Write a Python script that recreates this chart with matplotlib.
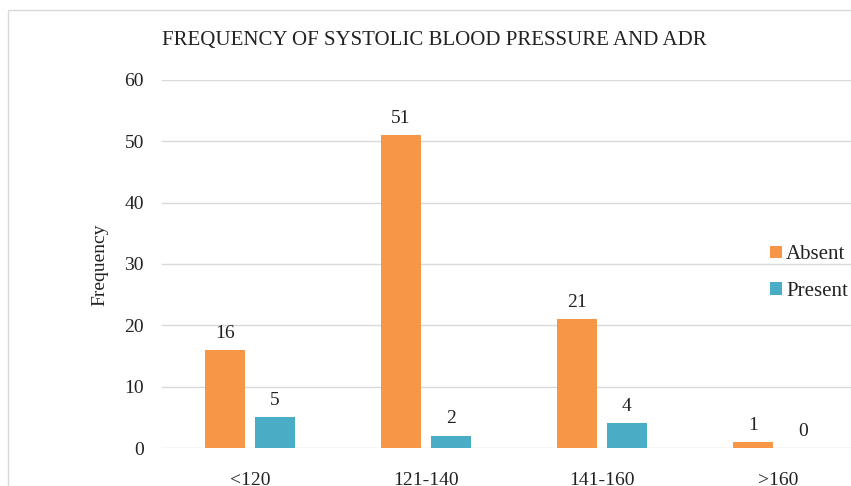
import matplotlib.pyplot as plt
import numpy as np
from matplotlib.patches import Rectangle

categories = ["<120", "121-140", "141-160", ">160"]
absent = [16, 51, 21, 1]
present = [5, 2, 4, 0]
series_names = ["Absent", "Present"]

plt.rcParams['font.family'] = ['Liberation Serif', 'DejaVu Serif']

W, H = 851, 486
fig = plt.figure(figsize=(W / 100, H / 100), dpi=100)

# plot area in pixels: left 162, right 866 (cropped), top 80, bottom 448
ax = fig.add_axes([162 / W, (H - 448) / H, 704 / W, 368 / H])

x = np.arange(len(categories))
bw = 40 / 176
off = 25 / 176
orange = "#F79646"
teal = "#4BACC6"
b1 = ax.bar(x - off, absent, bw, color=orange, label=series_names[0], zorder=3)
b2 = ax.bar(x + off, present, bw, color=teal, label=series_names[1], zorder=3)

for bars in (b1, b2):
    for r in bars:
        ax.annotate(f"{int(r.get_height())}", (r.get_x() + r.get_width() / 2, r.get_height()),
                    xytext=(0, 6), textcoords="offset points", ha="center", va="bottom",
                    fontsize=14, color="#222222")

ax.set_xlim(-0.5, 3.5)
ax.set_ylim(0, 60)
ax.set_yticks(range(0, 61, 10))
ax.set_xticks(x)
ax.set_xticklabels(categories)
ax.tick_params(axis="both", length=0, labelsize=14, colors="#222222")
ax.tick_params(axis="x", pad=17)
ax.tick_params(axis="y", pad=13)
ax.grid(axis="y", color="#D9D9D9", linewidth=1, zorder=0)
for s in ax.spines.values():
    s.set_visible(False)

fig.text(162 / W, 1 - 40 / H, "FREQUENCY OF SYSTOLIC BLOOD PRESSURE AND ADR",
         ha="left", va="center", fontsize=15, color="#222222")
fig.text(100 / W, 1 - 265 / H, "Frequency", rotation=90, ha="center", va="center",
         fontsize=14, color="#222222")

leg = fig.legend(handles=[b1, b2], loc="center left", bbox_to_anchor=(762 / W, 1 - 273 / H),
                 frameon=False, fontsize=15, handlelength=0.55, handleheight=0.55,
                 handletextpad=0.2, labelspacing=0.85, borderaxespad=0)
for t in leg.get_texts():
    t.set_color("#222222")

fig.patches.append(Rectangle((8 / W, -0.1), 1.1, 1 - 10 / H + 0.1, transform=fig.transFigure,
                             fill=False, edgecolor="#D9D9D9", linewidth=1))

fig.savefig("out.png", dpi=100)
